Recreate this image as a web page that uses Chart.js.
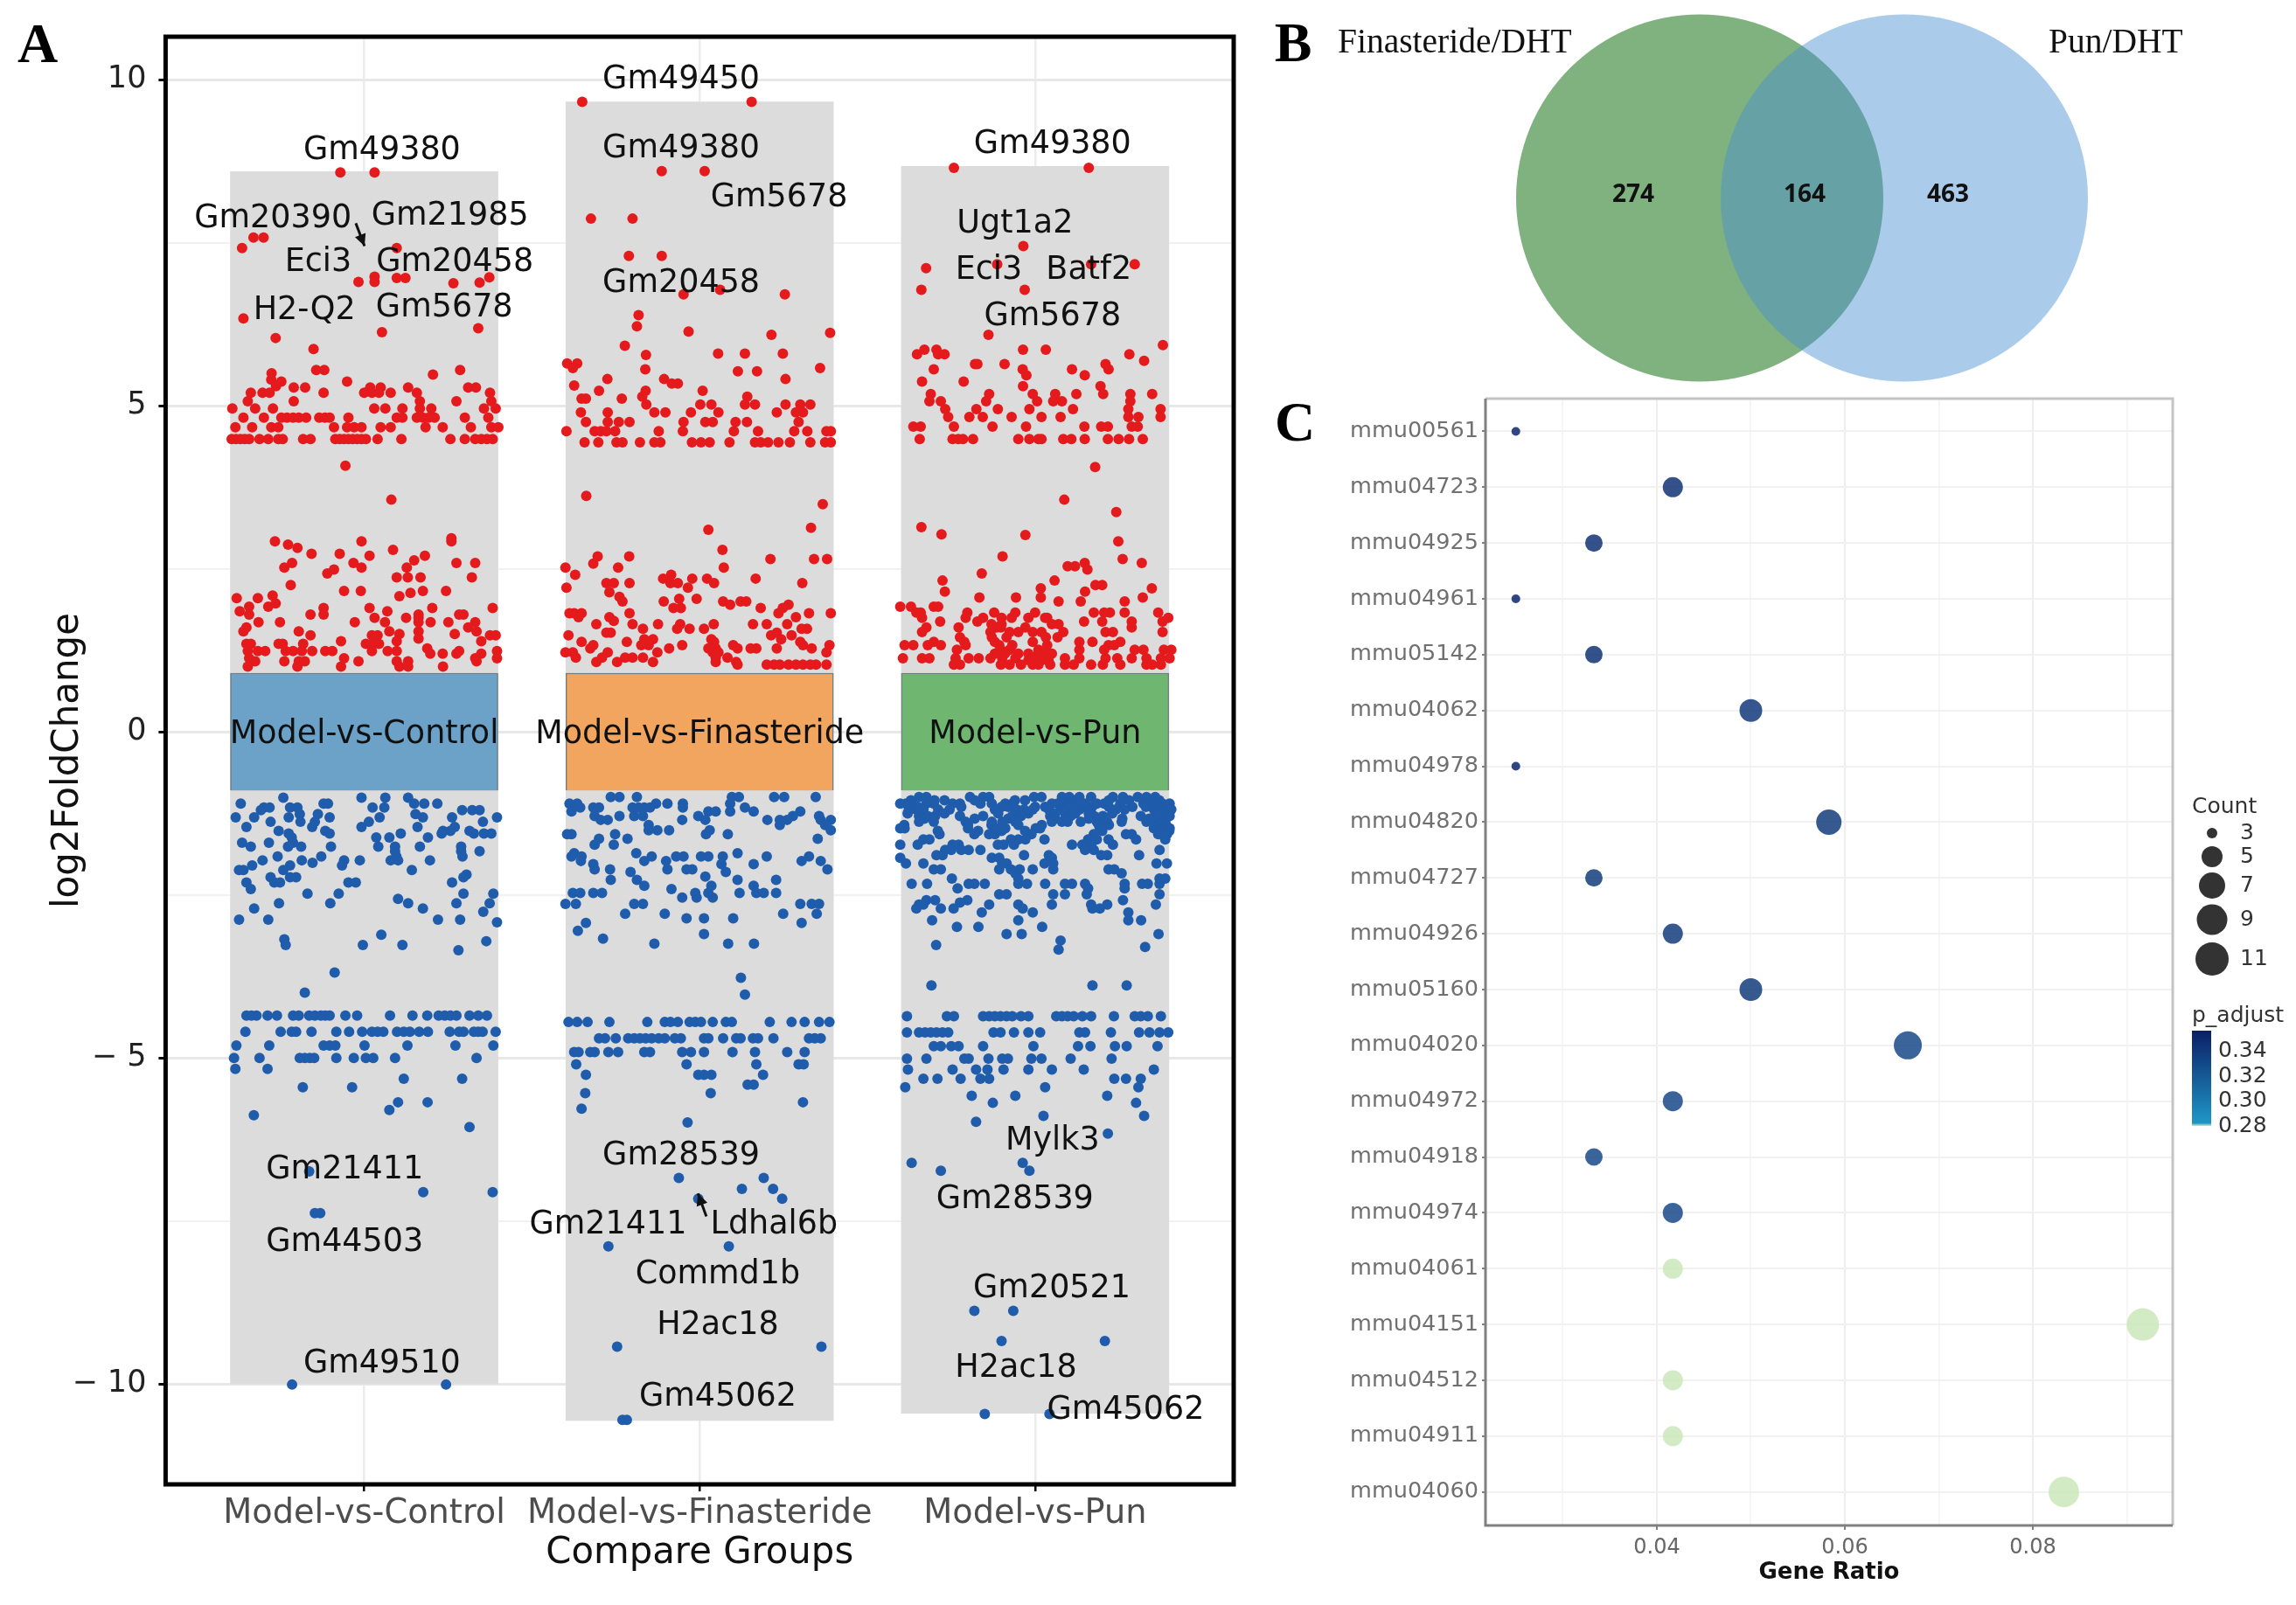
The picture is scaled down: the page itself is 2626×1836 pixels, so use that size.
<!DOCTYPE html>
<html>
<head>
<meta charset="utf-8">
<title>Compare groups</title>
<script src="https://cdn.jsdelivr.net/npm/chart.js@4"></script>
<style>
  html, body { margin: 0; padding: 0; background: #fff; }
  canvas { position: absolute; }
</style>
</head>
<body>
<canvas id="panelA" width="1440" height="1836" style="left:0;top:0"></canvas>
<canvas id="panelB" width="1186" height="456" style="left:1440px;top:0"></canvas>
<canvas id="panelC" width="1186" height="1400" style="left:1440px;top:436px"></canvas>
<script>
// --- PANEL A DATA ---
const groups = ['Model-vs-Control', 'Model-vs-Finasteride', 'Model-vs-Pun'];
const yTicks = [-10, -7.5, -5, -2.5, 0, 2.5, 5, 7.5, 10];
const greyTop = [8.59, 9.66, 8.67];
const greyBottom = [-10, -10.56, -10.45];
const bandHalf = 0.9;

// every row is [log2FoldChange, offset inside the group, offset, ...]
const controlUp = [
  [8.58,-.071,.031],[7.58,-.33,-.3],[7.42,-.364,.097],[6.98,.031],[6.9,-.017,.031],[6.96,.097,.123],[6.88,.266],[6.89,.344],[6.97,.373],
  [6.34,-.36],[6.19,.34],[6.13,.053],[6.04,-.264],[5.87,-.151],[5.55,-.143,-.119,.286],[5.48,.205],[5.5,-.276],[5.4,-.277],[5.37,-.247,-.051],[5.3,-.263],
  [5.28,-.21,-.176,.131,.018,.049,.31,.333],[5.2,-.338,-.303,-.282,-.121,0,.023,.044,.079,.157,.375],[5.07,-.347,-.21,.166,.275,.379],
  [4.96,-.393,-.325,-.272,.03,.063,.114,.166,.2,.357,.392],[4.82,-.36,-.299,-.247,-.23,-.212,-.195,-.173,-.134,-.117,-.103,-.047,.097,.114,.157,.175,.192,.21,.3,.37],
  [4.67,-.384,-.334,-.277,-.256,-.09,-.051,-.03,-.008,.049,.079,.183,.234,.318,.379,.4],
  [4.49,-.395,-.382,-.369,-.356,-.343,-.312,-.286,-.256,-.243,-.182,-.16,-.086,-.073,-.06,-.047,-.034,-.021,-.008,.005,.04,.111,.257,.3,.331,.349,.366,.383],
  [4.08,-.056],[3.56,.081],[2.97,.26],[2.92,.26,-.266,-.008],[2.87,-.227],[2.82,-.199],[2.79,.086],[2.73,-.157,-.073],[2.7,.016,.181],[2.63,.149],[2.59,-.215,-.032,.275,.331],
  [2.52,-.238,-.008,.127],[2.49,-.09],[2.43,-.11],[2.37,.097,.13,.168,.321],[2.25,-.219],[2.16,-.06,-.01,.175,.244],[2.13,.138],[2.08,.105],[2.05,-.38,-.317],[2.09,-.273],
  [1.97,-.264],[1.92,-.343,-.286],[1.9,-.121,.016,.203,.383],[1.85,-.371,.069],[1.8,-.343,-.16,.162,-.121,.283,.296],[1.75,.031,.125,.162],
  [1.68,-.315,-.251,-.028,.062,.198,.251,.331,.162],[1.6,-.351,.31],[1.54,-.195,-.36,.075,.162,.335],[1.5,.27,.105],[1.48,-.16,.023,.04,.375,.392],
  [1.43,.162],[1.39,-.069,.349,.097],[1.35,-.351,-.338,-.255,-.243,-.182,.005,.027,.044],[1.28,.188],
  [1.24,-.347,-.317,-.295,-.234,-.212,-.186,-.155,-.116,-.095,.023,.097,.07,.283,.396],[1.2,.197,.234,.275,.349],
  [1.13,.396,-.343,-.06,.331],[1.08,-.325,-.238,-.195,-.177,-.017,.097,.131,.335],[1.0,-.347,-.199,-.069,.105,.131,.235]
];
const controlDown = [
  [-1.01,-.241,-.008,.063,.131],[-1.1,-.368,-.108,-.121,.149,.179,.218],[-1.16,-.299,-.282,-.199,-.221,.025,.06],[-1.2,-.308,.292,.322,.344],[-1.26,-.192,-.138,.153],
  [-1.31,-.383,-.328,-.225,-.103,.046,.175,.396,.262],[-1.38,-.279,-.19,-.147,.014,.354],[-1.46,-.351,-.155,-.008,.159,.27],[-1.52,-.255,-.116,.314,.257,.235],
  [-1.56,-.225,-.103,.109,.231,.357,.379,.327],[-1.62,.036,.075,.19,-.216],[-1.7,-.364,-.284,-.212],[-1.76,-.338,-.227,-.188,-.099,.042,.092,.166,.289],[-1.83,.344,.092,.289],
  [-1.91,-.258,-.128,.096,.293],[-1.97,-.303,-.186,-.06,-.013,.079,.101,.196],[-2.01,-.154],[-2.05,-.334,-.221,-.066],[-2.12,-.36,-.373,-.241,.142],[-2.19,.305],
  [-2.23,-.279,-.221,.296,-.203],[-2.31,-.351,-.268,-.251,-.047,-.025,.262],[-2.41,-.338],[-2.48,-.169,-.076,.296,.385],[-2.56,.101],[-2.63,-.254,-.101,.131,.275,.374],
  [-2.71,-.328,.175],[-2.76,.355],[-2.88,-.373,-.286,.22,.286],[-2.92,.396],[-3.11,.051],[-3.18,-.238],[-3.21,.364],[-3.27,-.234,-.004,.114],[-3.35,.281],[-3.69,-.088],[-4,-.177],
  [-4.35,-.351,-.336,-.321,-.288,-.26,-.212,-.195,-.164,-.147,-.129,-.116,-.103,-.056,-.021,.077,.144,.188,.222,.24,.257,.275,.314,.34,.366],
  [-4.6,-.354,-.249,-.216,-.203,-.157,-.083,-.045,-.006,.023,.04,.057,.098,.118,.136,.164,.19,.255,.283,.296,.327,.34,.353,.392],
  [-4.81,-.381,-.283,-.121,-.103,-.086,.001,.129,.272,.385],[-5,-.388,-.312,-.192,-.177,-.162,-.149,-.083,-.031,.005,.027,.092,.335],[-5.17,-.384,-.288],[-5.32,.118,.292],[-5.45,-.183,-.036],
  [-5.68,.101,.189],[-5.8,.075],[-5.88,-.329],[-6.06,.314],[-6.74,-.164],[-7.06,.176,.383],[-7.38,-.147,-.131],[-10.01,-.215,.244]
];
const finasterideUp = [
  [9.66,-.35,.155],[8.6,-.113,.015],[7.87,-.324,-.2],[7.3,-.211,-.113],[6.78,.061],[6.71,-.048,.254],[6.39,-.182],[6.22,-.187],[6.14,-.033],[6.12,.389],[6.09,.214],[5.92,-.223],
  [5.8,.055,.135,.248],[5.78,-.16],[5.65,-.395,-.365],[5.58,-.378,.359],[5.56,-.162],[5.53,.114,.171],[5.41,-.275,-.106,.256],[5.34,-.083,-.065],[5.31,-.374],[5.23,-.3,-.161,.009],
  [5.14,-.171,.142],[5.11,-.352,-.339,-.232],[5.02,-.159,.002,.035,.135,.165,.256,.3,.33],[4.9,-.354,-.274,-.135,-.102,-.026,.056,.23,.287,.308],
  [4.75,-.339,-.274,-.241,-.209,-.048,.017,.039,.107,.141,.295],[4.61,-.397,-.313,-.295,-.278,-.252,-.122,-.05,.102,.174,.282,.321,.378,.391],
  [4.44,-.343,-.302,-.248,-.23,-.178,-.135,-.117,-.023,.004,.03,.089,.165,.182,.204,.235,.269,.33,.374,.391],
  [3.62,-.338],[3.49,.367],[3.13,.332],[3.1,.026],[2.79,.068],[2.69,-.21,-.304],[2.65,.341,.38,.211],[2.58,-.317],[2.52,-.4,-.243,.072],[2.41,-.371,-.085],[2.35,-.109,-.022,.022,.167],
  [2.28,.043,-.087,-.065,-.209,-.278,-.256,.306],[2.21,-.035,-.397],[2.14,-.269],[2.07,-.239],[2.04,-.061,-.009],[2,-.23,-.107,.07,.122,.139],[1.95,.091,.265],
  [1.9,-.078,-.056,.182,.248],[1.82,-.209,-.388,-.374,-.352,.326,.391,.235],[1.76,-.361,-.269,.287],[1.7,-.256],[1.65,-.308,-.2,-.124,-.058,.042,.159,.2,.261],
  [1.58,-.169,-.067,-.03,.013,.32,.304],[1.52,-.278,-.265,.23],[1.48,-.391,.213,.274],[1.42,-.165,-.139,.035,.243],[1.38,-.352,-.217,.043,.3],
  [1.33,-.317,-.174,-.152,-.052,.1,.387,.308],[1.28,-.326,-.091,.026,.048,.113,.169,.152,.334,.23],[1.22,-.4,-.378,-.126,-.274,.039,.056,.378],
  [1.14,-.369,-.291,-.222,-.2,-.169,.048,.083],[1.07,-.308,-.246,-.139,.048,.109],[1.03,.2,.222,.239,.265,.287,.308,.33,.347,.378,.113]
];
const finasterideDown = [
  [-1,-.265,-.187,.096,.117,.222,.252,.346,-.239],[-1.1,-.388,-.365,-.13,-.096,-.05,.091],[-1.16,-.317,-.3,-.378,-.356,-.2,-.182,-.165,-.148,-.05,.135],
  [-1.22,-.382,.026,.048,.161,.091,.3],[-1.29,-.239,-.313,-.195,-.169,-.004,.278,.356],[-1.35,-.295,-.274,-.052,.017,.202,.239,.261,.391,.361],[-1.43,-.152,.239,.374],
  [-1.51,-.152,-.126,-.091,.03,.391],[-1.57,-.395,-.382,-.252,.019,.084],[-1.64,-.3,-.215,.352],[-1.73,-.313,-.256],[-1.86,-.374,-.189,.113],
  [-1.91,-.382,-.352,-.143,-.07,-.048,.004,.026,.069,.2,.326],[-1.98,-.354,-.165,-.1,.304,.361],[-2.03,-.317,.065,.161],[-2.11,-.313,-.267,-.096,-.039,-.022,.381],[-2.15,-.206,.078],
  [-2.22,.017],[-2.27,-.265,-.187,.113,.228],[-2.36,-.165,.161,.035],[-2.41,-.084],[-2.47,-.378,-.356,-.317,-.291,-.013,.026,.119,.169,.191,.228],[-2.54,-.052,-.009,.039],
  [-2.64,-.4,-.369,-.195,-.169,.3,.334,.356],[-2.79,-.222,-.104,.249,.349],[-2.86,-.039,.013,.1],[-2.93,-.339,.304],[-3.05,-.363],[-3.1,.013],[-3.17,-.288],[-3.25,-.135,.085,.162],
  [-3.77,.123],[-4.03,.135],
  [-4.45,-.391,-.365,-.334,-.269,-.156,-.104,-.087,-.065,-.03,-.013,.004,.039,.078,.096,.209,.274,.313,.356,.387],
  [-4.7,-.3,-.282,-.25,-.213,-.195,-.178,-.161,-.143,-.122,-.104,-.074,-.056,.013,.026,.07,.109,.122,.159,.174,.22,.326,.343,.361],
  [-4.91,-.374,-.361,-.326,-.313,-.272,-.243,-.165,-.148,-.052,-.026,.013,.098,.165,.261,.313],[-5.1,-.368,-.039,.169,.295,.31],[-5.26,-.339,-.004,.013,.035,.189],[-5.41,.143,.161],
  [-5.54,-.341,.033],[-5.68,.308],[-5.78,-.352],[-5.99,-.036],[-6.84,-.062,.191],[-7.01,.126,.219],[-7.16,-.004,.246],[-7.89,-.272,.087],[-9.43,-.246,.363],[-10.55,-.23,-.217]
];
const punUp = [
  [8.65,-.242,.16],[7.45,-.035],[7.17,-.113,.167,.297],[7.11,-.325],[6.78,-.339,-.031],[6.09,-.139],[5.93,.381],[5.86,-.036,.032,-.33,-.294],[5.79,-.352,-.289,-.27,.281],[5.69,.325],
  [5.64,-.179,-.091,.21,-.172],[5.56,-.302,-.037,.11,.219],[5.47,-.026,.148],[5.37,-.337,-.213],[5.3,-.036,.195],[5.18,-.311,-.137,-.007,.06,.123,.203,.284,.349],
  [5.07,-.315,-.281,-.146,.006,.054,.08,.284],[4.95,-.268,-.175,-.111,-.017,.113,.278,.374],[4.83,-.259,-.196,-.156,-.07,.019,.076,.278,.308,.374],
  [4.68,-.363,-.341,-.242,-.127,-.027,.147,.197,.217,.288,.306],[4.49,-.344,-.246,-.229,-.215,-.185,-.05,-.017,.01,.019,.084,.108,.148,.217,.249,.28,.321],
  [4.06,.179],[3.56,.087],[3.37,.242],[3.14,-.339],[3.03,-.279],[3.02,-.029],[2.92,.248],[2.69,-.097],[2.65,.261],[2.59,.148,.318],[2.54,.097,.119],[2.49,.156],[2.43,-.159],[2.32,.058,-.276],
  [2.25,.18,.2],[2.2,.348,.017],[2.15,-.269,.149],[2.06,-.166,-.057,.017,.321],[2,.136,.07,.267],[1.92,-.402,-.37,-.302,-.289],
  [1.83,-.354,-.341,-.202,-.122,-.059,0,.175,.223,.206,.267,.367],[1.75,-.337,-.207,-.155,.036,.397,-.1,-.07,-.02,.03],[1.69,-.283,-.172,.146,.2,.288,.38],[1.65,-.13,-.1,.05,.07],[1.6,-.324,-.228,-.102,-.115,-.029,.288],
  [1.53,-.337,-.133,-.076,-.05,-.007,.019,.084,.21,.232,.38],[1.45,-.224,-.129,-.085,.032,.067],[1.38,-.211,-.12,-.007,.171,.132,.254,-.302],
  [1.33,-.389,-.363,-.32,-.281,-.207,-.107,-.068,.036,.219,.236],[1.26,-.233,-.102,-.076,.01,.132,.206,.297,.323,.384,.406],[1.2,-.12,-.09,-.05,-.02,.01,.03,.05],
  [1.13,-.394,-.337,-.315,-.237,-.198,-.168,-.133,-.098,-.059,-.007,.01,.028,.089,.132,.21,.245,.288,.332,.375,.401],[1.1,-.02,0,.02,.04],
  [1.03,-.242,-.224,-.102,-.076,-.042,-.007,.01,.045,.089,.115,.167,.202,.254,.332,.349,.375]
];
const punDown = [
  [-1,-.346,-.324,-.194,-.155,-.137,-.003,.019,.08,.102,.132,.167,.232,.262,.306,.332,.358],[-1.05,-.37,-.3,-.27,-.18,-.06,-.03,.12,.22,.28,.33,.37],
  [-1.1,-.402,-.385,-.367,-.324,-.302,-.246,-.224,-.163,-.129,-.089,-.068,.05,.067,.089,.11,.149,.184,.206,.254,.323,.349,.38,.401],[-1.15,-.35,-.22,-.1,-.08,0,.03,.1,.13,.17,.22,.29,.33,.37],
  [-1.19,-.376,-.354,-.333,-.289,-.255,-.12,-.055,-.033,-.007,.041,.08,.132,.158,.241,.267,.354,.384,.406],[-1.25,-.38,-.27,-.11,-.02,.06,.09,.12,.16,.23,.36,.39],
  [-1.29,-.346,-.32,-.298,-.224,-.155,-.068,-.042,.045,.106,.176,.202,.315,.401],[-1.33,-.33,-.18,-.08,.06,.09,.16,.26,.34,.37],
  [-1.38,-.346,-.302,-.207,-.129,-.098,-.059,.05,.08,.097,.136,.184,.215,.258,.332,.358,.388],[-1.43,-.39,-.2,-.13,-.05,.02,.19,.22,.37,.39],
  [-1.48,-.389,-.402,-.2,-.111,-.089,.002,.015,.193,.354,.38,.401],[-1.52,-.29,-.17,-.1,-.03,.2,.37,.4],[-1.57,-.285,-.181,-.137,-.12,-.011,.271,.288,.367,.393,.175],
  [-1.65,-.333,-.315,-.072,-.05,-.029,.028,.158,.184,.219,.301,.388],[-1.73,-.402,-.35,-.246,-.228,-.111,-.094,-.063,.11,.141,.167,.232],
  [-1.81,-.268,-.25,-.22,-.198,-.163,.149,.175,.371],[-1.89,-.294,-.276,-.033,.041,.197,.215,.31],[-1.93,-.402,-.129,-.107,.05],[-2.02,-.385,-.333,-.098,-.085,.028,.054,.362,.393],
  [-2.11,-.302,-.281,-.107,-.072,-.046,-.007,.054,.219,.236],[-2.17,.258,-.059],[-2.25,-.248,-.05,.371,.388],[-2.33,-.368,-.322,-.198,-.181,-.15,-.05,-.024,.03,.089,.11,.149,.267,.319,.336,.371],
  [-2.4,-.231,.267,.158],[-2.49,-.107,-.085,.054,.089,.154,.371],[-2.58,-.324,-.298,-.202,.262],[-2.62,-.224],[-2.65,-.346,-.333,-.137,-.05,.05,.167,.215,.36],
  [-2.71,-.354,-.281,-.243,-.037,.171,.193],[-2.77,-.159,-.007,.278],[-2.89,-.05,.316,-.307,.278],[-2.99,-.233,-.169,.021],[-3.1,-.085,-.04,.368],[-3.2,.076],[-3.27,-.295],[-3.3,.328],[-3.34,.07],
  [-3.89,-.309,.171,.273],
  [-4.36,-.382,-.263,-.242,-.155,-.137,-.12,-.103,-.085,-.068,-.042,-.02,.063,.08,.097,.115,.141,.167,.235,.297,.315,.336,.375],
  [-4.61,-.382,-.346,-.328,-.311,-.294,-.276,-.259,-.124,-.103,-.063,-.02,.015,.132,.149,.226,.31,.341,.371,.397],
  [-4.82,-.302,-.281,-.25,-.228,-.155,-.005,.128,.165,.238,.273,.365],[-5.01,-.382,-.324,-.211,-.198,-.139,-.098,-.081,-.011,.019,.106,.228],
  [-5.18,-.379,-.246,-.176,-.142,-.094,-.02,.05,.145,.354],[-5.32,-.333,-.291,-.222,-.163,-.137,.236,.271,.315],[-5.45,-.387,.03,.308],[-5.58,-.189,-.059,.215],[-5.69,-.126,.301],
  [-5.89,.025,.325],[-5.98,-.176],[-6.16,.217],[-6.61,-.368,-.037],[-6.73,-.281,-.017],[-8.88,-.181,-.065],[-9.34,-.1,.208],[-10.46,-.15,.043]
];
// gene names placed in the plot: [text, group, offset, log2FoldChange]
const geneLabels = [
  ['Gm49380',0,.053,8.95],['Gm20390',0,-.272,7.91],['Gm21985',0,.256,7.95],['Eci3',0,-.137,7.24],['Gm20458',0,.27,7.24],['H2-Q2',0,-.178,6.5],['Gm5678',0,.239,6.54],
  ['Gm21411',0,-.058,-6.68],['Gm44503',0,-.058,-7.79],['Gm49510',0,.053,-9.65],
  ['Gm49450',1,-.055,10.04],['Gm49380',1,-.055,8.98],['Gm5678',1,.237,8.22],['Gm20458',1,-.055,6.91],['Gm28539',1,-.055,-6.46],['Gm21411',1,-.273,-7.52],['Ldhal6b',1,.222,-7.53],
  ['Commd1b',1,.054,-8.29],['H2ac18',1,.054,-9.07],['Gm45062',1,.054,-10.17],
  ['Gm49380',2,.052,9.05],['Ugt1a2',2,-.06,7.83],['Eci3',2,-.138,7.12],['Batf2',2,.16,7.12],['Gm5678',2,.052,6.41],['Mylk3',2,.052,-6.24],['Gm28539',2,-.06,-7.13],
  ['Gm20521',2,.05,-8.51],['H2ac18',2,-.057,-9.73],['Gm45062',2,.27,-10.37]
];
// arrows: [x from, y from, x to, y to]
const geneArrows = [[-.025,7.8,.001,7.45],[1.02,-7.43,.995,-7.08]];

// --- PANEL B DATA ---
const vennCentres = [-117, 117];
const vennRadius = 210;
const vennCounts = [274, 164, 463];
const vennCountX = [-193, 3, 167];

// --- PANEL C DATA ---
const pathways = ['mmu00561','mmu04723','mmu04925','mmu04961','mmu05142','mmu04062','mmu04978','mmu04820','mmu04727','mmu04926',
  'mmu05160','mmu04020','mmu04972','mmu04918','mmu04974','mmu04061','mmu04151','mmu04512','mmu04911','mmu04060'];
const geneRatio = [.025,.0417,.0333,.025,.0333,.05,.025,.0583,.0333,.0417,.05,.0667,.0417,.0333,.0417,.0417,.0917,.0417,.0417,.0833];
const geneCount = [3,5,4,3,4,6,3,7,4,5,6,8,5,4,5,5,11,5,5,10];
const pAdjust = [.345,.338,.338,.345,.338,.335,.345,.333,.333,.333,.333,.325,.325,.325,.325,.28,.28,.28,.28,.28];
const ratioTicks = [.03,.04,.05,.06,.07,.08,.09];
const countLegend = [3,5,7,9,11];
const pLegend = ['0.34','0.32','0.30','0.28'];

const countRadius = {3:5, 4:10, 5:11.5, 6:13, 7:14.5, 8:16, 10:17.5, 11:18.5};

const SANS = '"DejaVu Sans"';
const SERIF = '"Liberation Serif"';

function toPoints(rows, group) {
  const pts = [];
  rows.forEach(r => r.slice(1).forEach(dx => pts.push({x: group + dx, y: r[0]})));
  return pts;
}

function pColor(p) {
  if (p <= .281) return 'rgba(203,231,186,0.85)';
  const t = Math.min(1, (p - .285) / (.35 - .285));
  const mix = (a, b) => Math.round(a + (b - a) * t);
  return `rgba(${mix(43,11)},${mix(140,31)},${mix(190,102)},0.85)`;
}

function text(ctx, str, x, y, font, color, align) {
  ctx.font = font;
  ctx.fillStyle = color;
  ctx.textAlign = align || 'center';
  ctx.textBaseline = 'middle';
  ctx.fillText(str, x, y);
}

// --- PANEL A ---
const panelAOverlay = {
  id: 'panelAOverlay',
  afterDraw(chart) {
    const {ctx, chartArea: a, scales: {x, y}} = chart;
    ctx.save();
    ctx.strokeStyle = '#000';
    ctx.lineWidth = 5;
    ctx.strokeRect(a.left, a.top, a.right - a.left, a.bottom - a.top);
    groups.forEach((g, i) => text(ctx, g, x.getPixelForValue(i), y.getPixelForValue(0) + 3, `36.5px ${SANS}`, '#111'));
    geneLabels.forEach(l => text(ctx, l[0], x.getPixelForValue(l[1] + l[2]), y.getPixelForValue(l[3]) + 3, `36.5px ${SANS}`, '#111'));
    geneArrows.forEach(g => {
      const x0 = x.getPixelForValue(g[0]), y0 = y.getPixelForValue(g[1]);
      const x1 = x.getPixelForValue(g[2]), y1 = y.getPixelForValue(g[3]);
      const ang = Math.atan2(y1 - y0, x1 - x0);
      ctx.strokeStyle = '#111';
      ctx.fillStyle = '#111';
      ctx.lineWidth = 3;
      ctx.beginPath();
      ctx.moveTo(x0, y0);
      ctx.lineTo(x1, y1);
      ctx.stroke();
      ctx.beginPath();
      ctx.moveTo(x1, y1);
      ctx.lineTo(x1 - 15 * Math.cos(ang - .45), y1 - 15 * Math.sin(ang - .45));
      ctx.lineTo(x1 - 15 * Math.cos(ang + .45), y1 - 15 * Math.sin(ang + .45));
      ctx.fill();
    });
    text(ctx, 'A', 43, 54, `bold 64px ${SERIF}`, '#000');
    ctx.restore();
  }
};

const upPoints = [controlUp, finasterideUp, punUp].flatMap((rows, i) => toPoints(rows, i));
const downPoints = [controlDown, finasterideDown, punDown].flatMap((rows, i) => toPoints(rows, i));

new Chart(document.getElementById('panelA'), {
  type: 'scatter',
  plugins: [panelAOverlay],
  data: {
    datasets: [
      {label: 'up', data: upPoints, pointRadius: 6, backgroundColor: '#e41a1c', borderWidth: 0, order: 0},
      {label: 'down', data: downPoints, pointRadius: 6, backgroundColor: '#1f5cab', borderWidth: 0, order: 0},
      {
        type: 'bar', label: 'band', grouped: false, barThickness: 306, order: 1,
        data: groups.map((g, i) => ({x: i, y: [-bandHalf, bandHalf]})),
        backgroundColor: ['#6ca1c8', '#f2a55e', '#6fb670'],
        borderColor: '#6e7f88', borderWidth: 1.5
      },
      {
        type: 'bar', label: 'range', grouped: false, barThickness: 306, order: 2,
        data: groups.map((g, i) => ({x: i, y: [greyBottom[i], greyTop[i]]})),
        backgroundColor: '#dcdcdc', borderWidth: 0
      }
    ]
  },
  options: {
    responsive: false,
    animation: false,
    devicePixelRatio: 1,
    layout: {autoPadding: false, padding: {left: 0, top: 42, right: 29, bottom: 0}},
    plugins: {legend: {display: false}, tooltip: {enabled: false}},
    scales: {
      x: {
        type: 'linear', min: -0.592, max: 2.592, offset: false,
        afterBuildTicks: s => { s.ticks = groups.map((g, i) => ({value: i})); },
        afterFit: s => { s.height = 138; },
        grid: {offset: false, color: '#ececec', lineWidth: 2.5, tickColor: '#000', tickLength: 8},
        border: {display: false},
        ticks: {autoSkip: false, maxRotation: 0, padding: 3, color: '#4d4d4d', font: {family: 'DejaVu Sans', size: 38.3},
          callback: v => groups[v]},
        title: {display: true, text: 'Compare Groups', color: '#111', font: {family: 'DejaVu Sans', size: 41.8}, padding: {top: 0, bottom: 34}}
      },
      y: {
        type: 'linear', min: -11.54, max: 10.66,
        afterBuildTicks: s => { s.ticks = yTicks.map(v => ({value: v})); },
        afterFit: s => { s.width = 189.4; },
        grid: {
          color: c => c.tick && c.tick.value % 5 === 0 ? '#e8e8e8' : '#f1f1f1',
          lineWidth: c => c.tick && c.tick.value % 5 === 0 ? 3 : 2,
          tickColor: c => c.tick && c.tick.value % 5 === 0 ? '#000' : 'transparent',
          tickLength: 8
        },
        border: {display: false},
        ticks: {autoSkip: false, padding: 14, color: '#222', font: {family: 'DejaVu Sans', size: 35},
          callback: v => v % 5 !== 0 ? '' : (v < 0 ? '\u2212 ' + Math.abs(v) : String(v))},
        title: {display: true, text: 'log2FoldChange', color: '#111', font: {family: 'DejaVu Sans', size: 42}, padding: {top: 53, bottom: 0}}
      }
    }
  }
});

// --- PANEL B ---
const panelBOverlay = {
  id: 'panelBOverlay',
  afterDraw(chart) {
    const {ctx, scales: {x, y}} = chart;
    ctx.save();
    vennCounts.forEach((c, i) => text(ctx, String(c), x.getPixelForValue(vennCountX[i]), y.getPixelForValue(3), `bold 28px "Noto Sans"`, '#111'));
    text(ctx, 'B', 39, 53, `bold 64px ${SERIF}`, '#000');
    text(ctx, 'Finasteride/DHT', 90, 50, `39.5px ${SERIF}`, '#111', 'left');
    text(ctx, 'Pun/DHT', 903, 50, `39.5px ${SERIF}`, '#111', 'left');
    ctx.restore();
  }
};

new Chart(document.getElementById('panelB'), {
  type: 'bubble',
  plugins: [panelBOverlay],
  data: {
    datasets: [
      {label: 'Pun/DHT', data: [{x: vennCentres[1], y: 0, r: vennRadius}], backgroundColor: 'rgba(74,145,208,0.47)', borderWidth: 0, order: 0},
      {label: 'Finasteride/DHT', data: [{x: vennCentres[0], y: 0, r: vennRadius}], backgroundColor: 'rgb(127,178,127)', borderWidth: 0, order: 1}
    ]
  },
  options: {
    responsive: false,
    animation: false,
    devicePixelRatio: 1,
    layout: {autoPadding: false, padding: 0},
    plugins: {legend: {display: false}, tooltip: {enabled: false}},
    scales: {
      x: {display: false, min: -621, max: 565},
      y: {display: false, min: -229.5, max: 226.5}
    }
  }
});

// --- PANEL C ---
const panelCOverlay = {
  id: 'panelCOverlay',
  afterDraw(chart) {
    const {ctx, chartArea: a} = chart;
    ctx.save();
    ctx.lineWidth = 3;
    ctx.strokeStyle = '#c4c4c4';
    ctx.beginPath();
    ctx.moveTo(a.left, a.top);
    ctx.lineTo(a.right, a.top);
    ctx.lineTo(a.right, a.bottom);
    ctx.stroke();
    ctx.strokeStyle = '#808080';
    ctx.beginPath();
    ctx.moveTo(a.left, a.top);
    ctx.lineTo(a.left, a.bottom);
    ctx.lineTo(a.right, a.bottom);
    ctx.stroke();

    text(ctx, 'C', 41, 51, `bold 64px ${SERIF}`, '#000');

    // legends sit in the right margin
    text(ctx, 'Count', 1067, 487, `25px ${SANS}`, '#333', 'left');
    const legendY = [517, 544, 577, 616, 661];
    const legendR = [6, 12, 15, 17.5, 19];
    countLegend.forEach((c, i) => {
      ctx.fillStyle = '#333';
      ctx.beginPath();
      ctx.arc(1090, legendY[i], legendR[i], 0, Math.PI * 2);
      ctx.fill();
      text(ctx, String(c), 1122, legendY[i], `25px ${SANS}`, '#333', 'left');
    });
    text(ctx, 'p_adjust', 1067, 726, `25px ${SANS}`, '#333', 'left');
    const grad = ctx.createLinearGradient(0, 743, 0, 852);
    grad.addColorStop(0, '#0b1f66');
    grad.addColorStop(.97, '#1f96c6');
    grad.addColorStop(1, '#cfe8c0');
    ctx.fillStyle = grad;
    ctx.fillRect(1067, 743, 22, 109);
    const pY = [766, 795, 823, 852];
    pLegend.forEach((p, i) => text(ctx, p, 1097, pY[i], `25px ${SANS}`, '#333', 'left'));
    ctx.restore();
  }
};

new Chart(document.getElementById('panelC'), {
  type: 'scatter',
  plugins: [panelCOverlay],
  data: {
    datasets: [{
      label: 'Gene Ratio',
      data: pathways.map((p, i) => ({x: geneRatio[i], y: i})),
      pointRadius: geneCount.map(c => countRadius[c]),
      pointBackgroundColor: pAdjust.map(pColor),
      pointBorderWidth: 0
    }]
  },
  options: {
    responsive: false,
    animation: false,
    devicePixelRatio: 1,
    layout: {autoPadding: false, padding: {left: 0, top: 20, right: 141, bottom: 0}},
    plugins: {legend: {display: false}, tooltip: {enabled: false}},
    scales: {
      x: {
        type: 'linear', min: .02177, max: .09488,
        afterBuildTicks: s => { s.ticks = ratioTicks.map(v => ({value: v})); },
        afterFit: s => { s.height = 91; },
        grid: {
          color: c => c.index % 2 === 1 ? '#eeeeee' : '#f6f6f6',
          lineWidth: 2,
          tickColor: c => c.index % 2 === 1 ? '#808080' : 'transparent',
          tickLength: 5
        },
        border: {display: false},
        ticks: {autoSkip: false, maxRotation: 0, padding: 6, color: '#666', font: {family: 'DejaVu Sans', size: 24},
          callback: (v, i) => i % 2 === 1 ? v.toFixed(2) : ''},
        title: {display: true, text: 'Gene Ratio', color: '#111', font: {family: 'DejaVu Sans', size: 26, weight: 'bold'}, padding: {top: 0, bottom: 21}}
      },
      y: {
        type: 'linear', reverse: true, min: -0.586, max: 19.6,
        afterBuildTicks: s => { s.ticks = pathways.map((p, i) => ({value: i})); },
        afterFit: s => { s.width = 259; },
        grid: {color: '#f1f1f1', lineWidth: 2, tickColor: '#808080', tickLength: 4},
        border: {display: false},
        ticks: {autoSkip: false, padding: 4, color: '#707070', font: {family: 'DejaVu Sans', size: 25.5},
          callback: v => pathways[v]}
      }
    }
  }
});
</script>
</body>
</html>
